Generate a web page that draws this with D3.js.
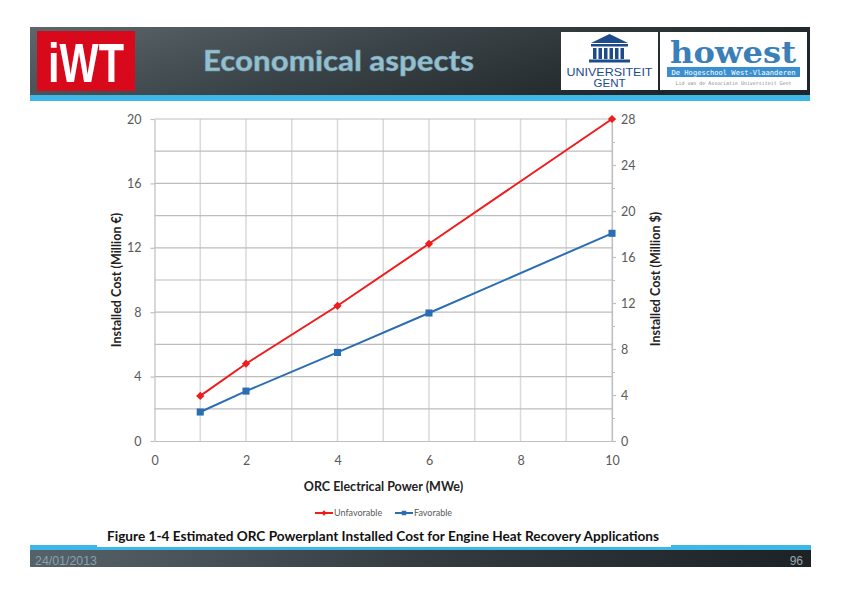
<!DOCTYPE html>
<html><head><meta charset="utf-8">
<script src="https://cdn.jsdelivr.net/npm/d3@7/dist/d3.min.js"></script>
<style>html,body{margin:0;padding:0;background:#fff;}svg{display:block;}</style>
</head><body>
<script>
// ---- data ----
const xValues = [1, 2, 4, 6, 10];
const unfavorable = [2.8, 4.8, 8.4, 12.25, 20];
const favorable = [1.8, 3.1, 5.5, 7.95, 12.9];
const seriesNames = ["Unfavorable", "Favorable"];
const seriesColors = ["#f01b1b", "#2a6db3"];
const xTicks = [0, 2, 4, 6, 8, 10];
const yLeftTicks = [0, 4, 8, 12, 16, 20];
const yRightTicks = [0, 4, 8, 12, 16, 20, 24, 28];
const pageTitle = "Economical aspects";
const caption = "Figure 1-4 Estimated ORC Powerplant Installed Cost for Engine Heat Recovery Applications";
const dateText = "24/01/2013";
const pageNum = "96";

const W = 842, H = 595;
const svg = d3.select("body").append("svg").attr("width", W).attr("height", H);
const defs = svg.append("defs");
const g1 = defs.append("linearGradient").attr("id", "hdr").attr("x1", 0).attr("x2", 1).attr("y1", 0).attr("y2", 0.3);
g1.append("stop").attr("offset", 0).attr("stop-color", "#5d686c");
g1.append("stop").attr("offset", 0.5).attr("stop-color", "#3a4347");
g1.append("stop").attr("offset", 1).attr("stop-color", "#1f2528");
const g2 = defs.append("linearGradient").attr("id", "ftr").attr("x1", 0).attr("x2", 1);
g2.append("stop").attr("offset", 0).attr("stop-color", "#56626a");
g2.append("stop").attr("offset", 0.5).attr("stop-color", "#343c41");
g2.append("stop").attr("offset", 1).attr("stop-color", "#1c2225");

// ---- header ----
svg.append("rect").attr("x", 30).attr("y", 27).attr("width", 780).attr("height", 68).attr("fill", "url(#hdr)");
svg.append("rect").attr("x", 30).attr("y", 95).attr("width", 780).attr("height", 6).attr("fill", "#3db7e6");
// IWT logo
svg.append("rect").attr("x", 37).attr("y", 31).attr("width", 98).attr("height", 60).attr("fill", "#d9091c");
svg.append("text").attr("x", 48).attr("y", 82).attr("fill", "#fff")
  .attr("font-family", "Liberation Sans, Arial").attr("font-weight", "bold").attr("font-size", 56)
  .attr("textLength", 76).attr("lengthAdjust", "spacingAndGlyphs").text("iWT");
// title
svg.append("text").attr("x", 338.5).attr("y", 71).attr("text-anchor", "middle")
  .attr("fill", "#93bfcf").attr("stroke", "#6f98a8").attr("stroke-width", 0.4)
  .attr("font-family", "Lato, Open Sans, sans-serif").attr("font-weight", 900).attr("font-size", 29)
  .attr("textLength", 271).attr("lengthAdjust", "spacingAndGlyphs")
  .text(pageTitle);
// UGent logo
svg.append("rect").attr("x", 561).attr("y", 32).attr("width", 97).attr("height", 58).attr("fill", "#fff");
const ug = svg.append("g").attr("fill", "#1e4c8a");
ug.append("path").attr("d", "M591,43 L609.5,34 L628,43 Z");
ug.append("rect").attr("x", 591).attr("y", 44).attr("width", 37).attr("height", 2.5);
[593, 598.5, 604, 609.5, 615, 620.5].forEach(x => ug.append("rect").attr("x", x).attr("y", 48).attr("width", 3.5).attr("height", 11));
ug.append("rect").attr("x", 589).attr("y", 59.5).attr("width", 41).attr("height", 3);
svg.append("text").attr("x", 609.5).attr("y", 75.5).attr("text-anchor", "middle").attr("fill", "#1e4c8a")
  .attr("font-family", "Liberation Sans, Arial").attr("font-size", 11.5).attr("textLength", 86).attr("lengthAdjust", "spacingAndGlyphs").text("UNIVERSITEIT");
svg.append("text").attr("x", 609.5).attr("y", 86.5).attr("text-anchor", "middle").attr("fill", "#1e4c8a")
  .attr("font-family", "Liberation Sans, Arial").attr("font-size", 11.5).text("GENT");
// Howest logo
svg.append("rect").attr("x", 660).attr("y", 32).attr("width", 147).attr("height", 58).attr("fill", "#fff");
svg.append("text").attr("x", 733).attr("y", 63).attr("text-anchor", "middle").attr("fill", "#3a7fb8")
  .attr("font-family", "DejaVu Serif, serif").attr("font-weight", "bold").attr("font-size", 30)
  .attr("textLength", 126).attr("lengthAdjust", "spacingAndGlyphs").text("howest");
svg.append("rect").attr("x", 667).attr("y", 67).attr("width", 133).attr("height", 10).attr("fill", "#3a8fd0");
svg.append("text").attr("x", 733.5).attr("y", 74.5).attr("text-anchor", "middle").attr("fill", "#fff")
  .attr("font-family", "DejaVu Sans Mono, monospace").attr("font-size", 7).attr("textLength", 124).attr("lengthAdjust", "spacingAndGlyphs").text("De Hogeschool West-Vlaanderen");
svg.append("text").attr("x", 733.5).attr("y", 85).attr("text-anchor", "middle").attr("fill", "#8a8a8a")
  .attr("font-family", "DejaVu Sans Mono, monospace").attr("font-size", 5).attr("textLength", 116).attr("lengthAdjust", "spacingAndGlyphs").text("Lid van de Associatie Universiteit Gent");

// ---- footer ----
svg.append("rect").attr("x", 30).attr("y", 545).attr("width", 781).attr("height", 5).attr("fill", "#3db7e6");
svg.append("rect").attr("x", 30).attr("y", 550).attr("width", 781).attr("height", 17).attr("fill", "url(#ftr)");
svg.append("rect").attr("x", 97).attr("y", 520).attr("width", 574).attr("height", 27).attr("fill", "#fff");
svg.append("text").attr("x", 35).attr("y", 564.5).attr("fill", "#8aa0ab")
  .attr("font-family", "Liberation Sans, Arial").attr("font-size", 12)
  .attr("textLength", 62).attr("lengthAdjust", "spacingAndGlyphs").text(dateText);
svg.append("text").attr("x", 803).attr("y", 564.5).attr("text-anchor", "end").attr("fill", "#9aa8ae")
  .attr("font-family", "Liberation Sans, Arial").attr("font-size", 12).text(pageNum);

// caption
svg.append("text").attr("x", 383).attr("y", 541).attr("text-anchor", "middle").attr("fill", "#111")
  .attr("font-family", "Lato, sans-serif").attr("font-weight", "bold").attr("font-size", 13)
  .attr("textLength", 552).attr("lengthAdjust", "spacingAndGlyphs").text(caption);

// ---- chart ----
const x0 = 154.5, x1 = 612, yTop = 119, yBot = 441;
const x = d3.scaleLinear().domain([0, 10]).range([x0, x1]);
const yL = d3.scaleLinear().domain([0, 20]).range([yBot, yTop]);
const yR = d3.scaleLinear().domain([0, 28]).range([yBot, yTop]);
const font = "Lato, Open Sans, sans-serif";

const grid = svg.append("g");
grid.selectAll("line.v").data(d3.range(1, 11)).join("line")
  .attr("x1", d => x(d)).attr("x2", d => x(d)).attr("y1", yTop).attr("y2", yBot)
  .attr("stroke", "#d9d9d9").attr("stroke-width", 1.5);
grid.selectAll("line.h").data(d3.range(2, 21, 2)).join("line")
  .attr("x1", x0).attr("x2", x1).attr("y1", d => yL(d)).attr("y2", d => yL(d))
  .attr("stroke", "#bdbdbd").attr("stroke-width", 1.2);

function styleAxis(g) {
  g.select(".domain").attr("stroke", "#bfbfbf").attr("stroke-width", 1.2);
  g.selectAll(".tick line").attr("stroke", "#bfbfbf").attr("stroke-width", 1.2);
  g.selectAll(".tick text").attr("fill", "#595959").attr("font-family", font).attr("font-size", 12.5);
}
const axL = svg.append("g").attr("transform", `translate(${x0},0)`)
  .call(d3.axisLeft(yL).tickValues(yLeftTicks).tickSize(4).tickPadding(9).tickSizeOuter(0));
styleAxis(axL);
const axB = svg.append("g").attr("transform", `translate(0,${yBot})`)
  .call(d3.axisBottom(x).tickValues(xTicks).tickSize(0).tickPadding(15).tickSizeOuter(0));
styleAxis(axB);
const axR = svg.append("g").attr("transform", `translate(${x1},0)`)
  .call(d3.axisRight(yR).tickValues(yRightTicks).tickSize(4).tickPadding(5).tickSizeOuter(0));
styleAxis(axR);
svg.append("g").attr("transform", `translate(${x1},0)`)
  .call(d3.axisRight(yR).tickValues(d3.range(2, 28, 4)).tickSize(3).tickFormat(""))
  .call(g => { g.select(".domain").remove(); g.selectAll("line").attr("stroke", "#bfbfbf"); });

// axis titles
svg.append("text").attr("transform", "translate(120.5,280) rotate(-90)").attr("text-anchor", "middle")
  .attr("font-family", font).attr("font-weight", "bold").attr("font-size", 12.5).attr("fill", "#222")
  .text("Installed Cost (Million €)");
svg.append("text").attr("transform", "translate(659.5,279) rotate(-90)").attr("text-anchor", "middle")
  .attr("font-family", font).attr("font-weight", "bold").attr("font-size", 12.5).attr("fill", "#222")
  .text("Installed Cost (Million $)");
svg.append("text").attr("x", 383.5).attr("y", 491).attr("text-anchor", "middle")
  .attr("font-family", font).attr("font-weight", "bold").attr("font-size", 12.5).attr("fill", "#222")
  .text("ORC Electrical Power (MWe)");

// series
const series = [unfavorable, favorable];
const line = d3.line().x((d, i) => x(xValues[i])).y(d => yL(d));
series.forEach((vals, si) => {
  svg.append("path").datum(vals).attr("d", line).attr("fill", "none")
    .attr("stroke", seriesColors[si]).attr("stroke-width", 2);
  svg.selectAll(null).data(vals).join("path")
    .attr("transform", (d, i) => `translate(${x(xValues[i])},${yL(d)})` + (si === 0 ? " rotate(45)" : ""))
    .attr("d", d3.symbol(d3.symbolSquare, si === 0 ? 34 : 50)).attr("fill", seriesColors[si]);
});

// legend
const legX = [315, 395];
seriesNames.forEach((n, si) => {
  const lg = svg.append("g").attr("transform", `translate(${legX[si]},513)`);
  lg.append("line").attr("x1", 0).attr("x2", 18).attr("stroke", seriesColors[si]).attr("stroke-width", 2);
  lg.append("path").attr("transform", "translate(9,0)" + (si === 0 ? " rotate(45)" : ""))
    .attr("d", d3.symbol(d3.symbolSquare, si === 0 ? 14 : 20)).attr("fill", seriesColors[si]);
  lg.append("text").attr("x", 19).attr("y", 3).attr("font-family", font).attr("font-size", 9)
    .attr("fill", "#595959").text(n);
});
</script>
</body></html>
